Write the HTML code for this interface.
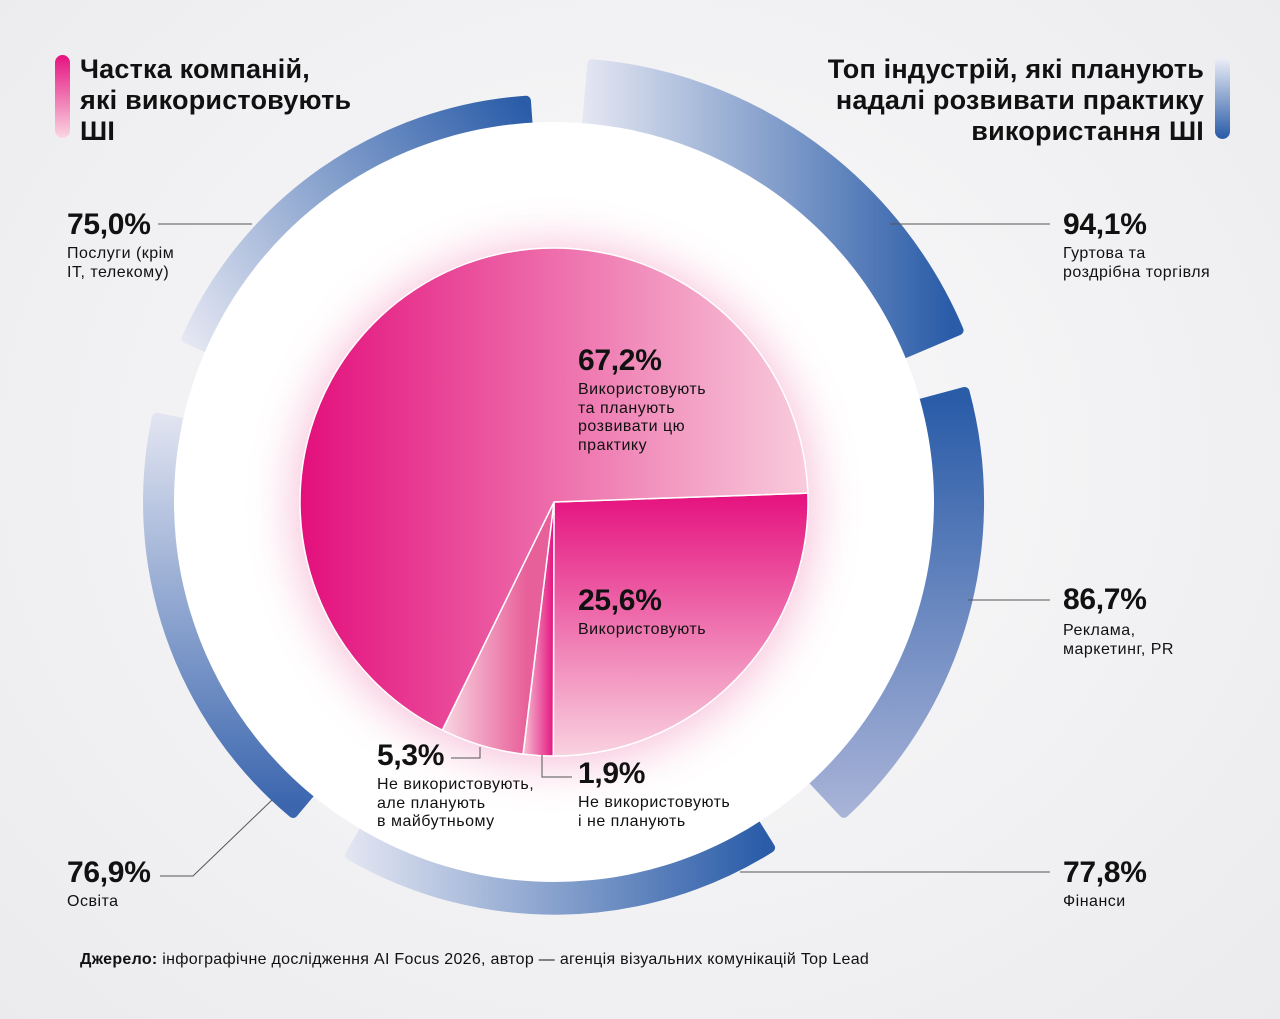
<!DOCTYPE html>
<html><head><meta charset="utf-8">
<style>
html,body{margin:0;padding:0}
body{width:1280px;height:1019px;overflow:hidden;background:radial-gradient(ellipse at 50% 45%,#fafafb 0%,#f1f1f3 60%,#ebebee 100%);font-family:"Liberation Sans","DejaVu Sans",sans-serif;color:#111;position:relative}
.t{position:absolute;margin:0}
.pct{font-size:30px;font-weight:bold;letter-spacing:-0.3px}
.lbl{font-size:16px;line-height:18.5px;letter-spacing:0.5px}
.h{font-size:27px;font-weight:bold;line-height:31px;letter-spacing:0.2px}
</style></head><body>
<svg id="chart" width="1280" height="1019" style="position:absolute;left:0;top:0">
<defs>
<filter id="glow" x="-50%" y="-50%" width="200%" height="200%"><feGaussianBlur stdDeviation="22"/></filter>
<linearGradient id="gBig" x1="300" y1="0" x2="808" y2="0" gradientUnits="userSpaceOnUse"><stop offset="0" stop-color="#e30f7c"/><stop offset="1" stop-color="#f8ccdb"/></linearGradient>
<linearGradient id="gUse" x1="0" y1="495" x2="0" y2="756" gradientUnits="userSpaceOnUse"><stop offset="0" stop-color="#e5127f"/><stop offset="1" stop-color="#f9d2df"/></linearGradient>
<linearGradient id="gNo" x1="524" y1="0" x2="554" y2="0" gradientUnits="userSpaceOnUse"><stop offset="0" stop-color="#f5bcd0"/><stop offset="1" stop-color="#e4137f"/></linearGradient>
<linearGradient id="gPlan" x1="445" y1="0" x2="526" y2="0" gradientUnits="userSpaceOnUse"><stop offset="0" stop-color="#f8d3df"/><stop offset="1" stop-color="#e8609a"/></linearGradient>
<linearGradient id="gA0" x1="185" y1="345" x2="528" y2="110" gradientUnits="userSpaceOnUse"><stop offset="0" stop-color="#e6e8f3"/><stop offset="1" stop-color="#2a5ca8"/></linearGradient>
<linearGradient id="gA1" x1="580" y1="0" x2="950" y2="0" gradientUnits="userSpaceOnUse"><stop offset="0" stop-color="#e6e8f3"/><stop offset="1" stop-color="#2a5ca8"/></linearGradient>
<linearGradient id="gA2" x1="0" y1="400" x2="0" y2="820" gradientUnits="userSpaceOnUse"><stop offset="0" stop-color="#2a5ca8"/><stop offset="1" stop-color="#aab4d8"/></linearGradient>
<linearGradient id="gA3" x1="340" y1="0" x2="765" y2="0" gradientUnits="userSpaceOnUse"><stop offset="0" stop-color="#e6e8f3"/><stop offset="1" stop-color="#2a5ca8"/></linearGradient>
<linearGradient id="gA4" x1="0" y1="405" x2="0" y2="805" gradientUnits="userSpaceOnUse"><stop offset="0" stop-color="#e6e8f3"/><stop offset="1" stop-color="#3b66ae"/></linearGradient>
<linearGradient id="gL" x1="0" y1="55" x2="0" y2="138" gradientUnits="userSpaceOnUse"><stop offset="0" stop-color="#e5127f"/><stop offset="1" stop-color="#fad6e2"/></linearGradient>
<linearGradient id="gR" x1="0" y1="58" x2="0" y2="138" gradientUnits="userSpaceOnUse"><stop offset="0" stop-color="#eceef6"/><stop offset="1" stop-color="#2a5ca8"/></linearGradient>
</defs>
<g id="arcs"></g>
<circle cx="554" cy="502" r="380" fill="#ffffff"/>
<circle cx="554" cy="505" r="262" fill="#f07fb0" opacity="0.45" filter="url(#glow)"/>
<g id="pie"></g>
<g stroke="#555" stroke-width="1" fill="none">
<polyline points="158,224 252,224"/>
<polyline points="890,224 1050,224"/>
<polyline points="968,600 1050,600"/>
<polyline points="740,872 1050,872"/>
<polyline points="160,876 193,876 272,800"/>
<polyline points="451,758 480,758 480,747"/>
<polyline points="542,755 542,777 572,777"/>
</g>
<rect x="55" y="55" width="15" height="83" rx="7.5" fill="url(#gL)"/>
<rect x="1215" y="57" width="15" height="82" rx="7.5" fill="url(#gR)"/>
</svg>

<div class="t h" style="left:80px;top:54px">Частка компаній,<br>які використовують<br>ШІ</div>
<div class="t h" style="right:76px;top:54px;text-align:right">Топ індустрій, які планують<br>надалі розвивати практику<br>використання ШІ</div>

<div class="t" style="left:67px;top:208px"><div class="pct">75,0%</div><div class="lbl" style="margin-top:3px">Послуги (крім<br>ІТ, телекому)</div></div>
<div class="t" style="left:1063px;top:208px"><div class="pct">94,1%</div><div class="lbl" style="margin-top:3px">Гуртова та<br>роздрібна торгівля</div></div>
<div class="t" style="left:1063px;top:583px"><div class="pct">86,7%</div><div class="lbl" style="margin-top:5px">Реклама,<br>маркетинг, PR</div></div>
<div class="t" style="left:1063px;top:856px"><div class="pct">77,8%</div><div class="lbl" style="margin-top:3px">Фінанси</div></div>
<div class="t" style="left:67px;top:856px"><div class="pct">76,9%</div><div class="lbl" style="margin-top:3px">Освіта</div></div>

<div class="t" style="left:578px;top:344px"><div class="pct">67,2%</div><div class="lbl" style="margin-top:3px">Використовують<br>та планують<br>розвивати цю<br>практику</div></div>
<div class="t" style="left:578px;top:584px"><div class="pct">25,6%</div><div class="lbl" style="margin-top:3px">Використовують</div></div>
<div class="t" style="left:377px;top:739px"><div class="pct">5,3%</div><div class="lbl" style="margin-top:3px">Не використовують,<br>але планують<br>в майбутньому</div></div>
<div class="t" style="left:578px;top:757px"><div class="pct">1,9%</div><div class="lbl" style="margin-top:3px">Не використовують<br>і не планують</div></div>

<div class="t" style="left:80px;top:951px;font-size:16px;letter-spacing:0.3px"><b>Джерело:</b> інфографічне дослідження AI Focus 2026, автор — агенція візуальних комунікацій Top Lead</div>

<script>
const industries = ["Послуги", "Торгівля", "Реклама", "Фінанси", "Освіта"];
const industryValues = [75.0, 94.1, 86.7, 77.8, 76.9];
const pieCategories = ["Використовують", "Не використовують і не планують", "Не використовують, але планують", "Використовують та планують"];
const pieValues = [25.6, 1.9, 5.3, 67.2];

const NS = "http://www.w3.org/2000/svg";
const cx = 554, cy = 502;
function pt(a, r) { const t = a * Math.PI / 180; return [cx + r * Math.sin(t), cy - r * Math.cos(t)]; }
function rScale(v) { return 256 + v * 1.95; }

const arcStarts = [294, 5, 75, 148, 220];
const arcSpan = 62;
const arcG = document.getElementById('arcs');
industryValues.forEach((v, i) => {
  const a0 = arcStarts[i], a1 = a0 + arcSpan, ro = rScale(v), ri = 360;
  const p0 = pt(a0, ro), p1 = pt(a1, ro), q1 = pt(a1, ri), q0 = pt(a0, ri);
  const d = `M${p0} A${ro},${ro} 0 0 1 ${p1} L${q1} A${ri},${ri} 0 0 0 ${q0} Z`;
  const el = document.createElementNS(NS, 'path');
  el.setAttribute('d', d);
  el.setAttribute('fill', `url(#gA${i})`);
  el.setAttribute('stroke', `url(#gA${i})`);
  el.setAttribute('stroke-width', '10');
  el.setAttribute('stroke-linejoin', 'round');
  
  
  arcG.appendChild(el);
});

const fills = ['url(#gUse)', 'url(#gNo)', 'url(#gPlan)', 'url(#gBig)'];
const pieG = document.getElementById('pie');
const total = pieValues.reduce((a, b) => a + b, 0);
let ang = 88;
const R = 254;
pieValues.forEach((v, i) => {
  const span = v / total * 360;
  const a0 = ang, a1 = ang + span;
  const p0 = pt(a0, R), p1 = pt(a1, R);
  const d = `M${cx},${cy} L${p0} A${R},${R} 0 ${span > 180 ? 1 : 0} 1 ${p1} Z`;
  const el = document.createElementNS(NS, 'path');
  el.setAttribute('d', d);
  el.setAttribute('fill', fills[i]);
  el.setAttribute('stroke', '#ffffff');
  el.setAttribute('stroke-width', '1.5');
  
  
  pieG.appendChild(el);
  ang = a1;
});
</script>
</body></html>
